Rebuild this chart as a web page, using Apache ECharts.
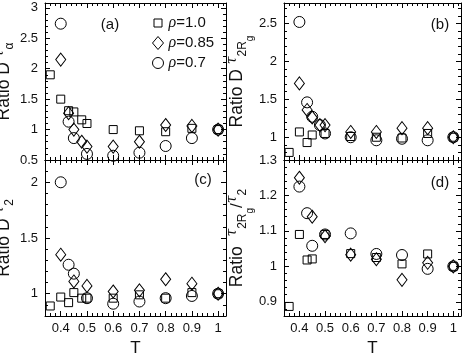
<!DOCTYPE html>
<html>
<head>
<meta charset="utf-8">
<title>Ratio D</title>
<script src="https://cdn.jsdelivr.net/npm/echarts@6/dist/echarts.min.js"></script>
<style>
html, body { margin: 0; padding: 0; background: #fff; }
#main { width: 463px; height: 354px; }
</style>
</head>
<body>
<div id="main"></div>
<script type="text/javascript">
// 温度 T
var T_rho10 = [0.36, 0.40, 0.43, 0.45, 0.48, 0.50, 0.60, 0.70, 0.80, 0.90, 1.00];
var T_rho085 = [0.40, 0.43, 0.45, 0.48, 0.50, 0.60, 0.70, 0.80, 0.90, 1.00];
var T_rho07 = [0.40, 0.43, 0.45, 0.48, 0.50, 0.60, 0.70, 0.80, 0.90, 1.00];

// (a) Ratio D tau_alpha
var a_rho10 = [1.90, 1.50, 1.31, 1.29, 1.16, 1.10, 1.00, 0.98, 0.965, 1.02, 1.00];
var a_rho085 = [2.15, 1.27, 1.00, 0.80, 0.72, 0.72, 0.80, 1.075, 1.06, 1.00];
var a_rho07 = [2.74, 1.13, 0.86, null, 0.60, 0.57, 0.62, 0.73, 0.86, 1.00];

// (b) Ratio D tau_2Rg
var b_rho10 = [0.80, 1.07, 0.93, 1.03, null, 1.05, 1.01, 1.00, 0.99, 1.05, 1.00];
var b_rho085 = [1.71, 1.36, 1.26, 1.16, 1.16, 1.07, 1.07, 1.12, 1.12, 1.00];
var b_rho07 = [2.52, 1.46, 1.27, 1.16, 1.05, 1.00, 0.96, 0.98, 0.96, 1.00];

// (c) Ratio D tau_2
var c_rho10 = [0.89, 0.97, 0.92, 1.01, 0.96, 0.96, 0.96, 0.99, 0.96, 1.01, 1.00];
var c_rho085 = [1.35, null, 1.11, null, 1.07, 1.02, 1.03, 1.13, 1.09, 1.00];
var c_rho07 = [2.00, 1.26, 1.18, null, 0.96, 0.91, 0.93, 0.96, 0.98, 1.00];

// (d) Ratio tau_2Rg / tau_2
var d_rho10 = [0.887, 1.09, 1.018, 1.021, null, 1.09, 1.036, 1.025, 1.007, 1.035, 1.00];
var d_rho085 = [1.25, null, 1.14, null, 1.085, 1.033, 1.02, 0.962, 1.01, 1.00];
var d_rho07 = [1.225, 1.15, 1.058, null, 1.09, 1.093, 1.035, 1.032, 0.993, 1.00];

var seriesNames = ['ρ=1.0', 'ρ=0.85', 'ρ=0.7'];

var FONT = 'Liberation Sans';

var myChart = echarts.init(document.getElementById('main'));

// 四个子图的位置
var grids = [
	{ left: 45, top: 3, width: 181, height: 157 },
	{ left: 284, top: 3, width: 177, height: 157 },
	{ left: 45, top: 160, width: 181, height: 156 },
	{ left: 284, top: 160, width: 177, height: 156 }
];

// y 轴: min, max, splitNumber, step, name, nameGap
var yConf = [
	{ min: 0.5, max: 3.08, split: 5, step: 0.5, name: 'Ratio D {t|τ}{s|α}', gap: 17 },
	{ min: 0.7, max: 2.77, split: 4, step: 0.5, name: 'Ratio D {t|τ}{s|2R}{ss|g}', gap: 22 },
	{ min: 0.8, max: 2.2, split: 3, step: 0.5, name: 'Ratio D {t|τ}{s|2}', gap: 19 },
	{ min: 0.86, max: 1.3, split: 4, step: 0.1, name: 'Ratio  {t|τ}{s|2R}{ss|g}{n|/}{t|τ}{s|2}', gap: 28 }
];

function fmt(step) {
	return function(v) {
		var k = v / step;
		if (Math.abs(k - Math.round(k)) > 1e-6) return '';
		return String(Math.round(v * 100) / 100);
	};
}

var nameRich = {
	t: { fontSize: 14, fontFamily: 'DejaVu Serif', fontStyle: 'italic', verticalAlign: 'top', color: '#111' },
	s: { fontSize: 12, fontFamily: FONT, verticalAlign: 'bottom', color: '#111' },
	ss: { fontSize: 10, fontFamily: FONT, verticalAlign: 'bottom', padding: [0, 0, -6, 0], color: '#111' },
	n: { fontSize: 17, fontFamily: FONT, color: '#111' }
};

var xAxis = [], yAxis = [];
for (var i = 0; i < 4; i++) {
	var bottomRow = i >= 2;
	['bottom', 'top'].forEach(function(pos) {
		var main = pos === 'bottom';
		xAxis.push({
			type: 'value', gridIndex: i, position: pos,
			min: 0.34, max: 1.03, splitNumber: 7,
			axisLine: { onZero: false, lineStyle: { color: '#000', width: 1 } },
			axisTick: { inside: true, length: 5, lineStyle: { color: '#000' } },
			minorTick: { show: true, splitNumber: 5, length: 3, lineStyle: { color: '#000' } },
			splitLine: { show: false },
			axisLabel: { show: main && bottomRow, margin: 6, fontSize: 13, fontFamily: FONT, color: '#111', formatter: fmt(0.1) },
			name: (main && bottomRow) ? 'T' : '',
			nameLocation: 'middle', nameGap: 24,
			nameTextStyle: { fontSize: 17, fontFamily: FONT, color: '#111' }
		});
	});
	var yc = yConf[i];
	['left', 'right'].forEach(function(pos) {
		var main = pos === 'left';
		yAxis.push({
			type: 'value', gridIndex: i, position: pos,
			min: yc.min, max: yc.max, splitNumber: yc.split,
			axisLine: { onZero: false, lineStyle: { color: '#000', width: 1 } },
			axisTick: { inside: true, length: 5, lineStyle: { color: '#000' } },
			minorTick: { show: true, splitNumber: 5, length: 3, lineStyle: { color: '#000' } },
			splitLine: { show: false },
			axisLabel: { show: main, margin: 7, fontSize: 13, fontFamily: FONT, color: '#111', formatter: fmt(yc.step) },
			name: main ? yc.name : '',
			nameLocation: 'middle', nameRotate: 90, nameGap: yc.gap,
			nameTextStyle: { fontSize: 17.5, fontFamily: FONT, color: '#111', lineHeight: 24, rich: nameRich }
		});
	});
}

function pts(T, v) {
	var out = [];
	for (var k = 0; k < T.length; k++) {
		if (v[k] != null) out.push([T[k], v[k]]);
	}
	return out;
}

var panels = [
	[a_rho10, a_rho085, a_rho07],
	[b_rho10, b_rho085, b_rho07],
	[c_rho10, c_rho085, c_rho07],
	[d_rho10, d_rho085, d_rho07]
];
var Ts = [T_rho10, T_rho085, T_rho07];
var symbols = ['rect', 'diamond', 'circle'];
var sizes = [8, [10, 13], 11];

var series = [];
panels.forEach(function(p, gi) {
	p.forEach(function(vals, si) {
		series.push({
			name: seriesNames[si],
			type: 'scatter',
			xAxisIndex: gi * 2,
			yAxisIndex: gi * 2,
			symbol: symbols[si],
			symbolSize: sizes[si],
			itemStyle: { color: 'rgba(0,0,0,0)', borderColor: '#000', borderWidth: 1, opacity: 1 },
			emphasis: { disabled: true },
			data: pts(Ts[si], vals)
		});
	});
});

var panelLabels = [['(a)', 110, 25], ['(b)', 440, 25], ['(c)', 203, 180], ['(d)', 440, 183]];

option = {
	animation: false,
	backgroundColor: '#fff',
	grid: grids.map(function(g) {
		return { left: g.left, top: g.top, width: g.width, height: g.height, containLabel: false, outerBoundsMode: 'none', show: false };
	}),
	xAxis: xAxis,
	yAxis: yAxis,
	legend: {
		orient: 'vertical', left: 147, top: 10,
		itemWidth: 11, itemHeight: 13, itemGap: 4,
		itemStyle: { color: 'rgba(0,0,0,0)', borderColor: '#000', borderWidth: 1 },
		textStyle: {
			fontSize: 15, fontFamily: FONT, color: '#111',
			rich: { i: { fontSize: 16, fontFamily: 'Liberation Serif', fontStyle: 'italic', color: '#111' } }
		},
		formatter: function(name) { return '{i|ρ}' + name.slice(1); },
		data: [
			{ name: seriesNames[0], icon: 'path://M0,0M11,13M1.5,2.5L9.5,2.5L9.5,10.5L1.5,10.5Z' },
			{ name: seriesNames[1], icon: 'diamond' },
			{ name: seriesNames[2], icon: 'circle' }
		],
		selectedMode: false
	},
	graphic: panelLabels.map(function(l) {
		return {
			type: 'text', x: l[1], y: l[2],
			style: { text: l[0], font: '15px "Liberation Sans"', fill: '#111', align: 'center', verticalAlign: 'middle' }
		};
	}),
	series: series
};

myChart.setOption(option);
</script>
</body>
</html>
